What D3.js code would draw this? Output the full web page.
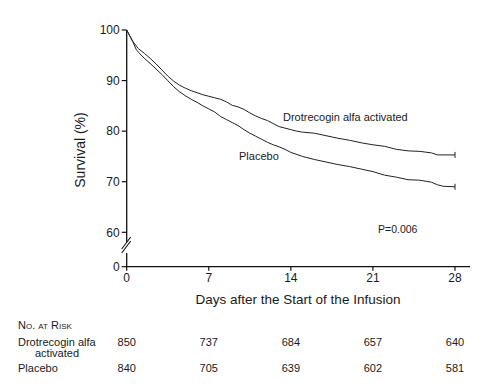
<!DOCTYPE html>
<html lang="en">

<head>
    <meta charset="UTF-8">
    <title>Survival after Start of Infusion</title>
    <script src="https://d3js.org/d3.v7.min.js"></script>
    <style>
        body {
            margin: 0;
            background: #fff;
        }

        text {
            font-family: "Liberation Sans", Arial, sans-serif;
            fill: #1a1a1a;
        }
    </style>
</head>

<body>
    <script>
        // survival
        const drotrecoginDays = [0, 0.5, 1, 1.5, 2, 2.5, 3, 3.5, 4, 4.5, 5, 5.5, 6, 6.5, 7, 7.5, 8, 8.5, 9, 9.5, 10, 10.5, 11, 11.5, 12, 12.5, 13, 13.5, 14, 14.5, 15, 16, 17, 18, 19, 20, 21, 22, 23, 24, 25, 26, 26.5, 27, 28];
        const drotrecoginSurv = [100, 97.8, 96.3, 95.4, 94.4, 93.3, 92.1, 90.9, 89.9, 89.1, 88.5, 88.0, 87.6, 87.2, 86.9, 86.6, 86.3, 85.8, 85.1, 84.8, 84.3, 83.6, 83.0, 82.5, 82.1, 81.5, 80.9, 80.6, 80.3, 80.0, 79.8, 79.6, 79.1, 78.6, 78.2, 77.7, 77.3, 77.0, 76.4, 76.1, 76.0, 75.7, 75.3, 75.3, 75.3];

        const placeboDays = [0, 0.5, 0.8, 1, 1.5, 2, 2.5, 3, 3.5, 4, 4.5, 5, 5.5, 6, 6.5, 7, 7.5, 8, 8.5, 9, 9.5, 10, 10.5, 11, 11.5, 12, 12.5, 13, 13.5, 14, 15, 16, 17, 18, 19, 20, 21, 22, 23, 24, 25, 26, 26.5, 27, 28];
        const placeboSurv = [100, 97.8, 96.2, 95.6, 94.4, 93.4, 92.3, 91.2, 90.0, 88.8, 87.8, 87.0, 86.3, 85.7, 85.0, 84.4, 83.8, 82.9, 82.3, 81.7, 81.1, 80.3, 79.6, 79.0, 78.4, 77.8, 77.3, 76.9, 76.4, 75.8, 75.0, 74.4, 73.9, 73.4, 73.0, 72.5, 72.0, 71.3, 70.9, 70.4, 70.3, 69.9, 69.4, 69.1, 69.0];

        const xTicks = [0, 7, 14, 21, 28];
        const yTicks = [0, 60, 70, 80, 90, 100];

        const riskDays = [0, 7, 14, 21, 28];
        const riskDrotrecogin = [850, 737, 684, 657, 640];
        const riskPlacebo = [840, 705, 639, 602, 581];

        const width = 491;
        const height = 392;

        const svg = d3.select("body").append("svg")
            .attr("width", width)
            .attr("height", height);

        const x = d3.scaleLinear()
            .domain([0, 28])
            .range([126.7, 455]);

        // broken axis: 0 sits just below 60
        const y = d3.scaleLinear()
            .domain([0, 60, 100])
            .range([266.7, 232.3, 30]);

        const axisX = x(0);
        const baseY = y(0);

        // y axis line, upper part and the stub under the break
        svg.append("line")
            .attr("x1", axisX).attr("x2", axisX)
            .attr("y1", y(100)).attr("y2", 242)
            .attr("stroke", "#111").attr("stroke-width", 1.3);
        svg.append("line")
            .attr("x1", axisX).attr("x2", axisX)
            .attr("y1", 253).attr("y2", baseY)
            .attr("stroke", "#111").attr("stroke-width", 1.3);

        // break marks
        [0, 4].forEach(o => {
            svg.append("line")
                .attr("x1", axisX - 5).attr("y1", 253 - o)
                .attr("x2", axisX + 4).attr("y2", 241 - o)
                .attr("stroke", "#111").attr("stroke-width", 1.1);
        });

        // x axis line
        svg.append("line")
            .attr("x1", axisX).attr("x2", 470)
            .attr("y1", baseY).attr("y2", baseY)
            .attr("stroke", "#111").attr("stroke-width", 1.3);

        // y ticks
        svg.selectAll(".ytick")
            .data(yTicks)
            .enter()
            .append("line")
            .attr("class", "ytick")
            .attr("x1", axisX - 5).attr("x2", axisX)
            .attr("y1", d => y(d)).attr("y2", d => y(d))
            .attr("stroke", "#111").attr("stroke-width", 1.2);

        svg.selectAll(".ylab")
            .data(yTicks)
            .enter()
            .append("text")
            .attr("class", "ylab")
            .attr("x", axisX - 7)
            .attr("y", d => y(d))
            .attr("dy", "0.35em")
            .attr("text-anchor", "end")
            .style("font-size", "12px")
            .text(d => d);

        // x ticks
        svg.selectAll(".xtick")
            .data(xTicks)
            .enter()
            .append("line")
            .attr("class", "xtick")
            .attr("x1", d => x(d)).attr("x2", d => x(d))
            .attr("y1", baseY).attr("y2", baseY + 4)
            .attr("stroke", "#111").attr("stroke-width", 1.2);

        svg.selectAll(".xlab")
            .data(xTicks)
            .enter()
            .append("text")
            .attr("class", "xlab")
            .attr("x", d => x(d))
            .attr("y", 282)
            .attr("text-anchor", "middle")
            .style("font-size", "12px")
            .text(d => d);

        // axis titles
        svg.append("text")
            .attr("x", 298)
            .attr("y", 304)
            .attr("text-anchor", "middle")
            .style("font-size", "13.5px")
            .text("Days after the Start of the Infusion");

        svg.append("text")
            .attr("transform", "translate(85,150) rotate(-90)")
            .attr("text-anchor", "middle")
            .style("font-size", "14px")
            .text("Survival (%)");

        // curves (many tiny steps in the source, so a plain line reads closer)
        const line = d3.line()
            .x(d => x(d[0]))
            .y(d => y(d[1]))
            .curve(d3.curveLinear);

        const series = [
            d3.zip(drotrecoginDays, drotrecoginSurv),
            d3.zip(placeboDays, placeboSurv)
        ];

        svg.selectAll(".curve")
            .data(series)
            .enter()
            .append("path")
            .attr("class", "curve")
            .attr("d", line)
            .attr("fill", "none")
            .attr("stroke", "#222")
            .attr("stroke-width", 1);

        // censor marks at the end
        svg.selectAll(".censor")
            .data(series)
            .enter()
            .append("line")
            .attr("class", "censor")
            .attr("x1", d => x(d[d.length - 1][0])).attr("x2", d => x(d[d.length - 1][0]))
            .attr("y1", d => y(d[d.length - 1][1]) - 3)
            .attr("y2", d => y(d[d.length - 1][1]) + 3)
            .attr("stroke", "#222").attr("stroke-width", 1);

        // curve labels
        svg.append("text")
            .attr("x", 283)
            .attr("y", 121)
            .style("font-size", "11px")
            .text("Drotrecogin alfa activated");

        svg.append("text")
            .attr("x", 239)
            .attr("y", 160)
            .style("font-size", "11px")
            .text("Placebo");

        svg.append("text")
            .attr("x", 378)
            .attr("y", 233)
            .style("font-size", "10.5px")
            .text("P=0.006");

        // number at risk table
        svg.append("text")
            .attr("x", 18)
            .attr("y", 329)
            .style("font-size", "11px")
            .style("font-variant", "small-caps")
            .text("No. at Risk");

        svg.append("text")
            .attr("x", 18)
            .attr("y", 346)
            .style("font-size", "11px")
            .text("Drotrecogin alfa");
        svg.append("text")
            .attr("x", 35)
            .attr("y", 357)
            .style("font-size", "11px")
            .text("activated");
        svg.append("text")
            .attr("x", 18)
            .attr("y", 372)
            .style("font-size", "11px")
            .text("Placebo");

        svg.selectAll(".riskD")
            .data(riskDrotrecogin)
            .enter()
            .append("text")
            .attr("class", "riskD")
            .attr("x", (d, i) => x(riskDays[i]))
            .attr("y", 346)
            .attr("text-anchor", "middle")
            .style("font-size", "11px")
            .text(d => d);

        svg.selectAll(".riskP")
            .data(riskPlacebo)
            .enter()
            .append("text")
            .attr("class", "riskP")
            .attr("x", (d, i) => x(riskDays[i]))
            .attr("y", 372)
            .attr("text-anchor", "middle")
            .style("font-size", "11px")
            .text(d => d);
    </script>
</body>

</html>
